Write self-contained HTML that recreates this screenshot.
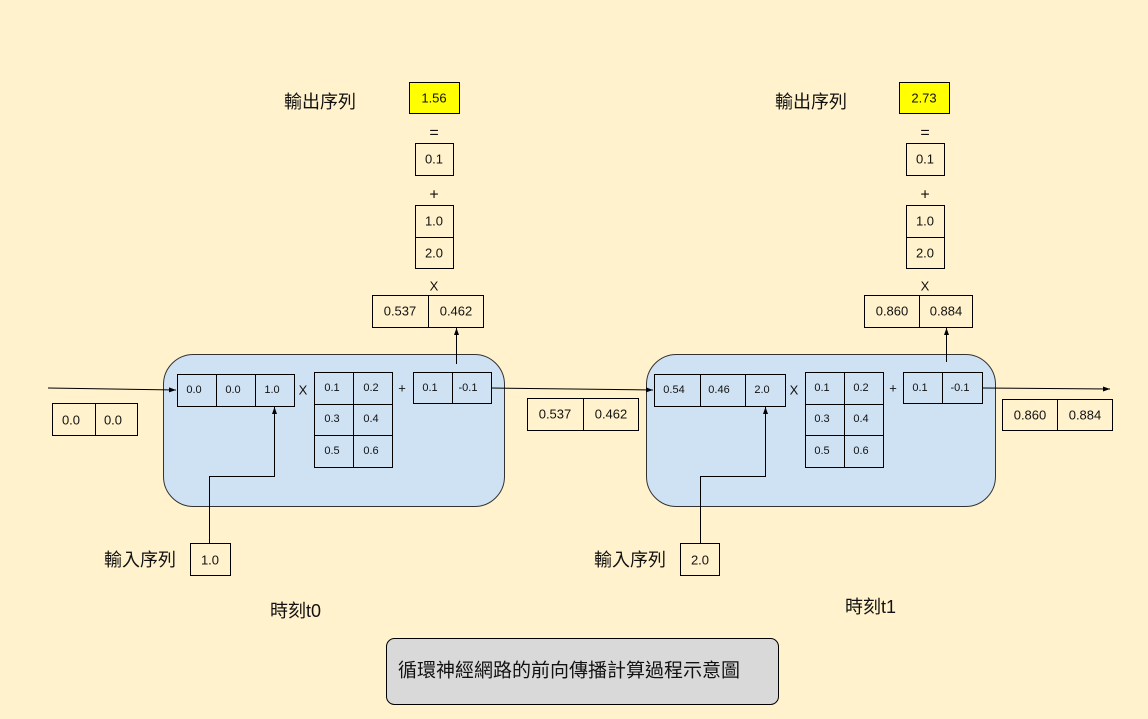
<!DOCTYPE html>
<html><head><meta charset="utf-8">
<style>
html,body{margin:0;padding:0;background:#fff2cc;}
svg{display:block;}
text{font-family:"Liberation Sans","Noto Sans CJK TC",sans-serif;fill:#111;}
.s{font-size:11px;}
.m{font-size:13px;}
.l{font-size:16px;}
.c{font-size:18px;}
</style></head><body>
<svg width="1148" height="719" viewBox="0 0 1148 719" xmlns="http://www.w3.org/2000/svg">
<defs>
<marker id="a" markerWidth="8" markerHeight="8" refX="7" refY="4" orient="auto" markerUnits="userSpaceOnUse">
<path d="M0,1.5 L7,4 L0,6.5 z" fill="#000"/></marker>
</defs>
<rect width="1148" height="719" fill="#fff2cc"/>
<g fill="none" stroke="#000" stroke-width="1">
<rect x="163.5" y="354.5" width="341" height="152" rx="30" fill="#cfe2f3" stroke="#333"/>
<rect x="646.5" y="354.5" width="349" height="152" rx="30" fill="#cfe2f3" stroke="#333"/>
<rect x="177.5" y="374.5" width="117" height="32"/><line x1="216.5" y1="374" x2="216.5" y2="406"/><line x1="255.5" y1="374" x2="255.5" y2="406"/>
<rect x="314.5" y="372.5" width="78" height="95"/><line x1="353.5" y1="372" x2="353.5" y2="467"/><line x1="314" y1="404.5" x2="392" y2="404.5"/><line x1="314" y1="435.5" x2="392" y2="435.5"/>
<rect x="413.5" y="372.5" width="78" height="31"/><line x1="452.5" y1="372" x2="452.5" y2="403"/>
<rect x="654.5" y="374.5" width="131" height="32"/><line x1="700.5" y1="374" x2="700.5" y2="406"/><line x1="745.5" y1="374" x2="745.5" y2="406"/>
<rect x="805.5" y="372.5" width="78" height="95"/><line x1="844.5" y1="372" x2="844.5" y2="467"/><line x1="805" y1="404.5" x2="883" y2="404.5"/><line x1="805" y1="435.5" x2="883" y2="435.5"/>
<rect x="903.5" y="372.5" width="79" height="31"/><line x1="942.5" y1="372" x2="942.5" y2="403"/>
<rect x="52.5" y="403.5" width="85" height="32"/><line x1="95.5" y1="403" x2="95.5" y2="435"/>
<rect x="527.5" y="398.5" width="111" height="32"/><line x1="583.5" y1="398" x2="583.5" y2="430"/>
<rect x="1002.5" y="399.5" width="110" height="31"/><line x1="1057.5" y1="399" x2="1057.5" y2="430"/>
<rect x="372.5" y="295.5" width="111" height="32"/><line x1="428.5" y1="295" x2="428.5" y2="327"/>
<rect x="415.5" y="205.5" width="38" height="63"/><line x1="415" y1="237.5" x2="453" y2="237.5"/>
<rect x="415.5" y="143.5" width="38" height="32"/>
<rect x="409.5" y="82.5" width="50" height="31" fill="#ffff00"/>
<rect x="864.5" y="295.5" width="108" height="32"/><line x1="919.5" y1="295" x2="919.5" y2="327"/>
<rect x="906.5" y="205.5" width="38" height="63"/><line x1="906" y1="237.5" x2="944" y2="237.5"/>
<rect x="906.5" y="143.5" width="38" height="32"/>
<rect x="899.5" y="82.5" width="50" height="31" fill="#ffff00"/>
<rect x="190.5" y="543.5" width="40" height="32"/>
<rect x="680.5" y="543.5" width="39" height="32"/>
<rect x="386.5" y="638.5" width="392" height="66" rx="8" fill="#d9d9d9"/>
<line x1="48" y1="388" x2="176" y2="390" marker-end="url(#a)"/>
<line x1="491" y1="388" x2="653" y2="390" marker-end="url(#a)"/>
<line x1="982" y1="388" x2="1110" y2="389" marker-end="url(#a)"/>
<line x1="456.5" y1="364" x2="456.5" y2="328" marker-end="url(#a)"/>
<line x1="946.5" y1="362" x2="946.5" y2="328" marker-end="url(#a)"/>
<polyline points="209.5,543 209.5,476.5 274.5,476.5 274.5,407" marker-end="url(#a)"/>
<polyline points="700.5,543 700.5,476.5 765.5,476.5 765.5,407" marker-end="url(#a)"/>
</g>
<g class="s" text-anchor="middle" dominant-baseline="central">
<text x="194" y="390">0.0</text><text x="233" y="390">0.0</text><text x="272" y="390">1.0</text>
<text x="332" y="388">0.1</text><text x="371" y="388">0.2</text>
<text x="332" y="419">0.3</text><text x="371" y="419">0.4</text>
<text x="332" y="451">0.5</text><text x="371" y="451">0.6</text>
<text x="430" y="388">0.1</text><text x="468" y="388">-0.1</text>
<text x="674" y="390">0.54</text><text x="719" y="390">0.46</text><text x="762" y="390">2.0</text>
<text x="822" y="388">0.1</text><text x="861" y="388">0.2</text>
<text x="822" y="419">0.3</text><text x="861" y="419">0.4</text>
<text x="822" y="451">0.5</text><text x="861" y="451">0.6</text>
<text x="920" y="388">0.1</text><text x="960" y="388">-0.1</text>
<text x="303" y="390" class="m">X</text><text x="402" y="388" class="m">+</text>
<text x="794" y="390" class="m">X</text><text x="893" y="388" class="m">+</text>
</g>
<g class="m" text-anchor="middle" dominant-baseline="central">
<text x="71" y="420">0.0</text><text x="113" y="420">0.0</text>
<text x="555" y="414">0.537</text><text x="611" y="414">0.462</text>
<text x="1030" y="415">0.860</text><text x="1085" y="415">0.884</text>
<text x="400" y="311">0.537</text><text x="456" y="311">0.462</text>
<text x="434" y="286">X</text>
<text x="434" y="221">1.0</text><text x="434" y="253">2.0</text>
<text x="434" y="195" class="l">+</text>
<text x="434" y="159">0.1</text>
<text x="434" y="133" class="l">=</text>
<text x="434" y="98">1.56</text>
<text x="892" y="311">0.860</text><text x="946" y="311">0.884</text>
<text x="925" y="286">X</text>
<text x="925" y="221">1.0</text><text x="925" y="253">2.0</text>
<text x="925" y="195" class="l">+</text>
<text x="925" y="159">0.1</text>
<text x="925" y="133" class="l">=</text>
<text x="924" y="98">2.73</text>
<text x="210" y="560">1.0</text><text x="700" y="560">2.0</text>
</g>
<g class="c" dominant-baseline="central">
<text x="284" y="102">輸出序列</text>
<text x="775" y="102">輸出序列</text>
<text x="104" y="560">輸入序列</text>
<text x="594" y="560">輸入序列</text>
<text x="270" y="611">時刻t0</text>
<text x="845" y="607">時刻t1</text>
<text x="398" y="671" style="font-size:19px">循環神經網路的前向傳播計算過程示意圖</text>
</g>
</svg>
</body></html>
